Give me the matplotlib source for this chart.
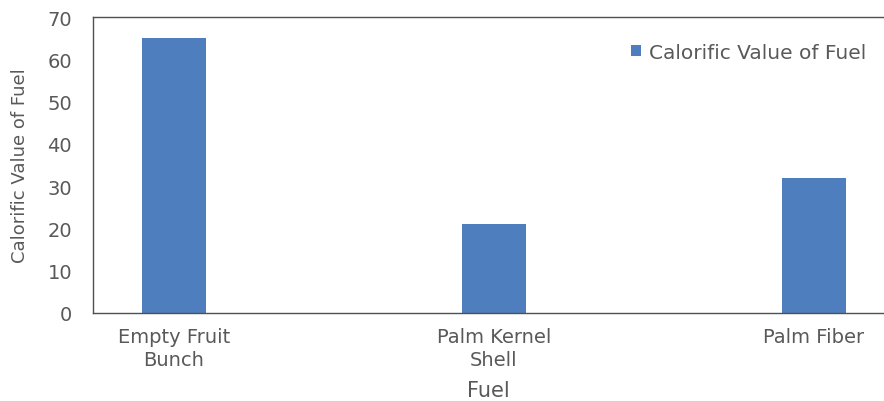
import matplotlib
matplotlib.use("Agg")
import matplotlib.pyplot as plt

categories = ["Empty Fruit\nBunch", "Palm Kernel\nShell", "Palm Fiber"]
values = [65, 21, 32]
series_name = "Calorific Value of Fuel"
yticks = [0, 10, 20, 30, 40, 50, 60, 70]

TXT = "#595959"
BAR = "#4F7EBE"
plt.rcParams["font.family"] = ["DejaVu Sans"]

fig = plt.figure(figsize=(8.84, 4.02), dpi=100)
ax = fig.add_axes([93 / 884, 1 - 314 / 402, 1 - 93 / 884, (314 - 18) / 402])

x = range(len(categories))
ax.bar(x, values, width=0.2, color=BAR, label=series_name, zorder=2)

ax.set_xlim(-0.253, 2.22)
ax.set_ylim(0, 70)
ax.set_yticks(yticks)
ax.set_xticks(list(x))
ax.set_xticklabels(categories, fontsize=14, color=TXT, linespacing=1.3)
ax.tick_params(axis="y", labelsize=14, labelcolor=TXT, length=0, pad=15)
ax.tick_params(axis="x", length=0, pad=10)

for s in ["left", "top", "bottom"]:
    ax.spines[s].set_color("#505050")
    ax.spines[s].set_linewidth(1.0)
ax.spines["right"].set_visible(False)

ax.set_xlabel("Fuel", fontsize=15, color=TXT, labelpad=8)
ax.set_ylabel(series_name, fontsize=13, color=TXT, labelpad=13)

ax.legend(loc="upper right", bbox_to_anchor=(1.0, 0.975), frameon=False,
          fontsize=14.5, labelcolor=TXT, handlelength=0.5, handleheight=0.5,
          handletextpad=0.4)

fig.savefig("out.png", dpi=100)
